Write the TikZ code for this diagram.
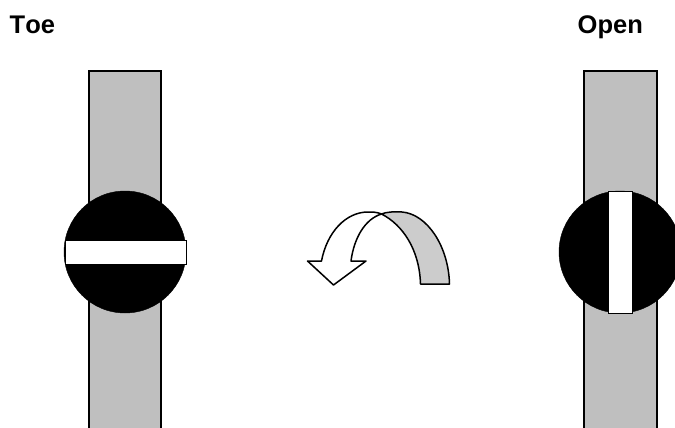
\documentclass[tikz,border=0pt]{standalone}
\usepackage{fontspec}
\setmainfont[Kerning=Off]{Liberation Sans}
\begin{document}
\begin{tikzpicture}[
    x=1pt, y=-1pt,
    strip/.style={draw=black, fill=gray!50, line width=1.1pt},
    disc/.style={draw=black, fill=black},
    slot/.style={draw=black, fill=white, line width=0.8pt},
    turn/.style={draw=black, line width=1.5pt, line join=round},
    title/.style={font=\fontsize{25.5}{28}\selectfont\bfseries, inner sep=0pt, anchor=base west},
]
    \useasboundingbox (0,0) rectangle (675,428);
    \clip (0,0) rectangle (675,428);
    % Toe
    \node[title] (toe) at (9.5,33.5) {Toe};
    \draw[strip] (89,71) rectangle (161,432);
    \fill[disc] (125,252) circle (61);
    \draw[slot] (65,240) rectangle (186,264);
    % Open
    \node[title] (open) at (577.5,33.5) {Open};
    \draw[strip] (584,71) rectangle (657,432);
    \fill[disc] (620,252) circle (61);
    \draw[slot] (608,191) rectangle (632,313);
    % Turn arrow
    \draw[turn, fill=gray!40] (381.5,214) .. controls (386,212) and (394,211.5) .. (402,212)
        .. controls (427,214) and (448.5,246) .. (449.5,284) -- (420.5,284)
        .. controls (419.5,250) and (403,225) .. (381.5,214) -- cycle;
    \draw[turn, fill=white] (321.5,261) .. controls (327,232) and (346,212) .. (368,212)
        .. controls (372,212) and (377,212) .. (381.5,214)
        .. controls (365,219) and (354,238) .. (351,261) -- (366,261) -- (333.5,285) -- (307.5,261) -- cycle;
\end{tikzpicture}
\end{document}
